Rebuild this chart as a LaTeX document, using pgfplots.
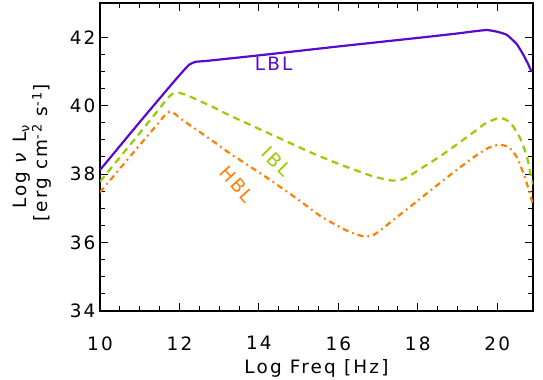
\documentclass[border=0pt]{standalone}
\usepackage{fontspec}
\setmainfont[LetterSpace=12]{DejaVu Sans}
\usepackage{pgfplots}
\pgfplotsset{compat=1.18}
\usetikzlibrary{calc}
\definecolor{lblc}{RGB}{88,10,205}
\definecolor{iblc}{RGB}{153,204,0}
\definecolor{hblc}{RGB}{255,128,0}
\newcommand{\lf}{\fontsize{18.5}{21}\selectfont}
\begin{document}
\begin{tikzpicture}
\begin{axis}[
  scale only axis, width=433bp, height=308bp,
  xmin=10, xmax=20.9, ymin=34, ymax=43,
  xtick={10,12,...,20}, ytick={34,36,...,42},
  minor x tick num=3, minor y tick num=3,
  tick align=inside, major tick length=8bp, minor tick length=5bp,
  axis line style={line width=1.3bp},
  every tick/.style={black, line width=1bp},
  tick label style={font=\lf},
  /pgf/number format/assume math mode=true,
  xticklabel style={yshift=-22bp},
  yticklabel style={xshift=-1bp},
]
\addplot[lblc, line width=2.2bp, smooth, tension=0.3] coordinates {
(10,38.12) (11,39.52) (11.8,40.62) (12.1,41.02) (12.25,41.2) (12.4,41.28) (12.7,41.31)
(14,41.47) (16,41.73) (18,41.98) (19,42.11) (19.4,42.17) (19.74,42.21) (20.0,42.16)
(20.24,42.07) (20.49,41.8) (20.65,41.5) (20.78,41.21) (20.86,40.99)};
\addplot[iblc, line width=2.2bp, smooth, tension=0.3, dash pattern=on 7bp off 5bp] coordinates {
(10,37.78) (11,39.2) (11.5,39.92) (11.7,40.22) (11.85,40.36) (12.0,40.37) (12.2,40.3)
(12.86,39.95) (13.29,39.70) (14.29,39.17) (15.29,38.64) (16.0,38.3) (16.47,38.10)
(16.88,37.93) (17.35,37.81) (17.6,37.84) (17.81,37.96) (18.06,38.15) (18.6,38.55)
(19.4,39.22) (19.7,39.48) (20.03,39.64) (20.2,39.6) (20.36,39.46) (20.57,39.07)
(20.74,38.54) (20.84,38.0) (20.9,37.7)};
\addplot[hblc, line width=2.2bp, smooth, tension=0.3, dash pattern=on 6bp off 4bp on 1.8bp off 4bp] coordinates {
(10,37.47) (11,38.85) (11.5,39.53) (11.6,39.68) (11.75,39.82) (11.9,39.75) (12.03,39.62)
(12.86,38.95) (13.29,38.59) (14.12,37.96) (14.96,37.28) (15.54,36.78) (15.96,36.50)
(16.30,36.30) (16.63,36.18) (16.85,36.2) (17.05,36.35) (17.47,36.74) (17.81,37.05)
(18.06,37.28) (18.73,37.9) (19.4,38.49) (19.8,38.78) (20.07,38.86) (20.3,38.78)
(20.5,38.48) (20.65,38.05) (20.78,37.6) (20.9,37.1)};
\node[lblc, font=\lf] at (axis cs:14.37,41.21) {LBL};
\node[iblc, font=\lf, rotate=-45] at (axis cs:14.45,38.37) {IBL};
\node[hblc, font=\lf, rotate=-48] at (axis cs:13.45,37.71) {HBL};
\end{axis}
\node[font=\lf] at ($(current axis.south)+(0,-57bp)$) {Log Freq [Hz]};
\node[font=\lf, rotate=90] at ($(current axis.south west)+(-78bp,144bp)$) {Log \textit{ν} L\textsubscript{ν}};
\node[font=\lf, rotate=90] at ($(current axis.south west)+(-58bp,158bp)$) {[erg cm\textsuperscript{-2} s\textsuperscript{-1}]};
\pgfresetboundingbox
\path ($(current axis.south west)+(-100bp,-69bp)$) rectangle ($(current axis.north east)+(10bp,3bp)$);
\end{tikzpicture}
\end{document}
